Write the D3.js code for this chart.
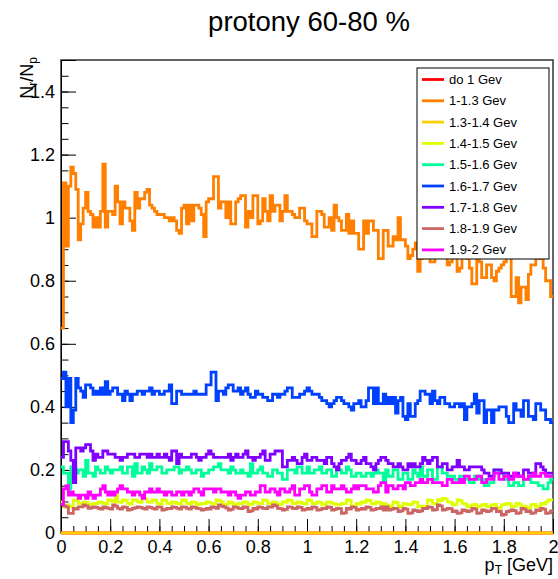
<!DOCTYPE html>
<html>
<head>
<meta charset="utf-8">
<script src="https://cdn.jsdelivr.net/npm/d3@7"></script>
<style>
  html, body { margin: 0; padding: 0; background: #fff; }
  svg { display: block; font-family: "Liberation Sans", Arial, Helvetica, sans-serif; }
</style>
</head>
<body>
<svg id="chart" width="558" height="579"></svg>
<script>
// legend entries and colours, in drawing order
const labels = ['do 1 Gev', '1-1.3 Gev', '1.3-1.4 Gev', '1.4-1.5 Gev', '1.5-1.6 Gev',
  '1.6-1.7 Gev', '1.7-1.8 Gev', '1.8-1.9 Gev', '1.9-2 Gev'];
const colors = ['#ff0000', '#ff8000', '#ffcc00', '#e0ff00', '#00ff99',
  '#0040ff', '#8000ff', '#cc6666', '#ff00ff'];

const pTRange = [0, 2];
const yRange = [0, 1.5];
const xTickValues = [0, 0.2, 0.4, 0.6, 0.8, 1, 1.2, 1.4, 1.6, 1.8, 2];
const yTickValues = [0, 0.2, 0.4, 0.6, 0.8, 1, 1.2, 1.4];

// 200 bins of 0.01 GeV each
const below1 = [
  0,0,0,0,0,0,0,0,0,0, 0,0,0,0,0,0,0,0,0,0, 0,0,0,0,0,0,0,0,0,0, 0,0,0,0,0,0,0,0,0,0,
  0,0,0,0,0,0,0,0,0,0, 0,0,0,0,0,0,0,0,0,0, 0,0,0,0,0,0,0,0,0,0, 0,0,0,0,0,0,0,0,0,0,
  0,0,0,0,0,0,0,0,0,0, 0,0,0,0,0,0,0,0,0,0, 0,0,0,0,0,0,0,0,0,0, 0,0,0,0,0,0,0,0,0,0,
  0,0,0,0,0,0,0,0,0,0, 0,0,0,0,0,0,0,0,0,0, 0,0,0,0,0,0,0,0,0,0, 0,0,0,0,0,0,0,0,0,0,
  0,0,0,0,0,0,0,0,0,0, 0,0,0,0,0,0,0,0,0,0, 0,0,0,0,0,0,0,0,0,0, 0,0,0,0,0,0,0,0,0,0
];
const gev1to13 = [
  0.65,1.11,0.91,1.10,1.16,1.14,1.09,0.93,0.98,1.03,
  1.08,1.02,1.01,0.97,1.00,0.97,1.02,1.17,0.97,1.02,
  1.02,1.01,1.10,1.05,0.98,1.05,1.03,1.03,0.99,0.96,
  1.08,1.03,1.06,1.06,1.08,1.09,1.04,1.03,1.02,1.01,
  1.01,1.01,1.00,1.00,0.99,1.00,0.99,0.96,0.95,1.03,
  1.04,0.98,1.04,0.99,1.04,1.04,1.03,1.01,0.94,1.05,
  1.06,1.06,1.13,1.13,1.03,1.05,1.05,1.00,1.05,0.98,
  0.98,1.05,1.06,1.07,1.07,0.97,1.02,1.00,1.07,1.07,
  0.98,0.99,1.06,1.02,0.99,1.07,1.02,1.04,1.04,0.99,
  1.02,1.07,1.02,1.02,1.01,1.00,1.00,1.03,1.03,0.99,
  0.98,0.98,0.94,0.94,1.02,1.02,1.01,0.97,0.97,1.00,
  0.96,1.04,1.00,0.99,0.96,0.96,1.01,0.95,0.99,0.95,
  0.95,0.90,0.90,0.99,0.95,0.99,0.99,0.96,0.96,0.87,
  0.87,0.96,0.96,0.91,0.91,0.94,0.93,1.00,0.93,0.93,
  0.91,0.87,0.88,0.90,0.92,0.83,0.87,0.90,0.92,0.89,
  0.86,0.86,0.90,0.92,0.88,0.91,0.89,0.85,0.86,0.90,
  0.88,0.83,0.84,0.91,0.88,0.87,0.84,0.79,0.79,0.90,
  0.86,0.81,0.81,0.85,0.85,0.81,0.80,0.83,0.84,0.85,
  0.86,0.90,0.92,0.75,0.75,0.81,0.73,0.78,0.78,0.74,
  0.82,0.85,0.85,0.87,0.87,0.90,0.84,0.80,0.80,0.75
];
const gev13to14 = [
  0,0,0,0,0,0,0,0,0,0, 0,0,0,0,0,0,0,0,0,0, 0,0,0,0,0,0,0,0,0,0, 0,0,0,0,0,0,0,0,0,0,
  0,0,0,0,0,0,0,0,0,0, 0,0,0,0,0,0,0,0,0,0, 0,0,0,0,0,0,0,0,0,0, 0,0,0,0,0,0,0,0,0,0,
  0,0,0,0,0,0,0,0,0,0, 0,0,0,0,0,0,0,0,0,0, 0,0,0,0,0,0,0,0,0,0, 0,0,0,0,0,0,0,0,0,0,
  0,0,0,0,0,0,0,0,0,0, 0,0,0,0,0,0,0,0,0,0, 0,0,0,0,0,0,0,0,0,0, 0,0,0,0,0,0,0,0,0,0,
  0,0,0,0,0,0,0,0,0,0, 0,0,0,0,0,0,0,0,0,0, 0,0,0,0,0,0,0,0,0,0, 0,0,0,0,0,0,0,0,0,0
];
const gev14to15 = [
  0.099,0.083,0.089,0.083,0.085,0.105,0.103,0.094,0.092,0.099,
  0.097,0.089,0.091,0.094,0.093,0.099,0.097,0.094,0.092,0.105,
  0.103,0.099,0.120,0.099,0.097,0.105,0.103,0.094,0.092,0.105,
  0.104,0.099,0.097,0.110,0.108,0.099,0.097,0.105,0.103,0.094,
  0.092,0.105,0.103,0.094,0.093,0.099,0.097,0.094,0.092,0.105,
  0.103,0.094,0.092,0.099,0.097,0.089,0.091,0.094,0.093,0.099,
  0.097,0.094,0.092,0.105,0.103,0.099,0.089,0.091,0.099,0.097,
  0.089,0.091,0.094,0.093,0.099,0.097,0.089,0.091,0.099,0.097,
  0.094,0.093,0.105,0.103,0.094,0.092,0.099,0.097,0.089,0.091,
  0.099,0.097,0.105,0.103,0.094,0.093,0.099,0.097,0.094,0.092,
  0.105,0.103,0.094,0.093,0.099,0.097,0.089,0.091,0.099,0.097,
  0.094,0.092,0.089,0.091,0.094,0.093,0.105,0.103,0.083,0.085,
  0.094,0.092,0.099,0.097,0.105,0.103,0.094,0.092,0.099,0.097,
  0.089,0.094,0.089,0.083,0.085,0.099,0.097,0.083,0.085,0.094,
  0.092,0.089,0.091,0.099,0.097,0.083,0.085,0.083,0.084,0.105,
  0.103,0.094,0.092,0.105,0.103,0.110,0.108,0.099,0.097,0.089,
  0.091,0.105,0.103,0.094,0.092,0.083,0.085,0.089,0.091,0.083,
  0.085,0.089,0.091,0.083,0.085,0.089,0.091,0.078,0.080,0.089,
  0.091,0.094,0.092,0.083,0.085,0.094,0.092,0.083,0.085,0.078,
  0.080,0.089,0.091,0.083,0.085,0.094,0.092,0.099,0.105,0.105
];
const gev15to16 = [
  0.21,0.19,0.19,0.14,0.21,0.21,0.19,0.20,0.20,0.18,
  0.23,0.19,0.19,0.18,0.21,0.20,0.19,0.19,0.21,0.20,
  0.19,0.20,0.20,0.20,0.21,0.19,0.19,0.21,0.21,0.18,
  0.22,0.19,0.19,0.21,0.20,0.19,0.22,0.20,0.20,0.21,
  0.21,0.19,0.19,0.20,0.20,0.20,0.21,0.21,0.19,0.20,
  0.20,0.21,0.20,0.19,0.19,0.20,0.20,0.18,0.19,0.19,
  0.20,0.20,0.21,0.21,0.22,0.20,0.20,0.20,0.19,0.21,
  0.20,0.19,0.19,0.20,0.19,0.19,0.18,0.22,0.19,0.19,
  0.20,0.21,0.19,0.19,0.18,0.18,0.20,0.20,0.19,0.19,
  0.17,0.17,0.20,0.20,0.20,0.19,0.21,0.21,0.19,0.19,
  0.21,0.19,0.19,0.20,0.20,0.21,0.19,0.19,0.20,0.20,
  0.18,0.18,0.20,0.20,0.19,0.19,0.21,0.20,0.18,0.18,
  0.19,0.19,0.18,0.18,0.19,0.19,0.18,0.19,0.20,0.19,
  0.19,0.16,0.20,0.18,0.18,0.20,0.20,0.17,0.17,0.19,
  0.19,0.17,0.17,0.20,0.19,0.18,0.21,0.18,0.18,0.20,
  0.20,0.17,0.17,0.21,0.21,0.19,0.19,0.18,0.18,0.18,
  0.17,0.17,0.18,0.18,0.17,0.17,0.16,0.16,0.18,0.18,
  0.17,0.17,0.15,0.15,0.16,0.16,0.20,0.20,0.19,0.19,
  0.17,0.17,0.15,0.15,0.16,0.16,0.15,0.15,0.17,0.17,
  0.17,0.16,0.16,0.16,0.15,0.15,0.14,0.14,0.16,0.17
];
const gev16to17 = [
  0.49,0.51,0.40,0.49,0.35,0.39,0.49,0.46,0.45,0.43,
  0.47,0.47,0.46,0.44,0.45,0.44,0.46,0.44,0.48,0.44,
  0.45,0.46,0.46,0.44,0.44,0.42,0.45,0.44,0.42,0.44,
  0.44,0.45,0.45,0.44,0.45,0.45,0.46,0.44,0.45,0.45,
  0.44,0.44,0.45,0.45,0.47,0.41,0.41,0.45,0.45,0.44,
  0.44,0.44,0.44,0.44,0.45,0.44,0.44,0.44,0.44,0.47,
  0.47,0.51,0.51,0.42,0.45,0.45,0.44,0.46,0.47,0.47,
  0.45,0.45,0.46,0.44,0.45,0.46,0.44,0.43,0.43,0.45,
  0.44,0.44,0.43,0.43,0.42,0.42,0.44,0.44,0.43,0.44,
  0.44,0.45,0.46,0.46,0.43,0.43,0.43,0.44,0.44,0.45,
  0.46,0.45,0.44,0.44,0.44,0.43,0.42,0.42,0.41,0.40,
  0.41,0.42,0.43,0.43,0.42,0.41,0.41,0.40,0.39,0.41,
  0.41,0.42,0.40,0.40,0.42,0.46,0.46,0.41,0.46,0.41,
  0.41,0.44,0.41,0.43,0.41,0.43,0.38,0.42,0.43,0.37,
  0.36,0.41,0.37,0.37,0.41,0.42,0.45,0.45,0.44,0.44,
  0.41,0.45,0.42,0.41,0.43,0.43,0.41,0.41,0.40,0.40,
  0.41,0.41,0.40,0.41,0.36,0.40,0.40,0.41,0.44,0.38,
  0.42,0.42,0.35,0.39,0.39,0.35,0.39,0.39,0.40,0.40,
  0.40,0.37,0.35,0.35,0.41,0.39,0.39,0.37,0.42,0.42,
  0.37,0.37,0.36,0.41,0.41,0.39,0.39,0.36,0.36,0.35
];
const gev17to18 = [
  0.24,0.29,0.29,0.26,0.23,0.16,0.27,0.27,0.26,0.27,
  0.28,0.28,0.26,0.23,0.25,0.24,0.24,0.26,0.26,0.25,
  0.25,0.25,0.24,0.24,0.23,0.24,0.24,0.25,0.25,0.25,
  0.24,0.24,0.25,0.25,0.25,0.24,0.25,0.24,0.24,0.25,
  0.24,0.24,0.25,0.24,0.23,0.26,0.26,0.22,0.25,0.24,
  0.24,0.24,0.24,0.25,0.25,0.24,0.23,0.24,0.24,0.25,
  0.26,0.25,0.24,0.24,0.24,0.24,0.24,0.24,0.25,0.23,
  0.24,0.25,0.24,0.24,0.25,0.26,0.24,0.24,0.23,0.24,
  0.24,0.25,0.26,0.23,0.23,0.25,0.25,0.26,0.26,0.26,
  0.21,0.21,0.23,0.23,0.24,0.23,0.22,0.22,0.24,0.25,
  0.23,0.23,0.24,0.24,0.23,0.23,0.23,0.22,0.24,0.24,
  0.22,0.21,0.20,0.22,0.23,0.23,0.24,0.25,0.23,0.23,
  0.22,0.22,0.23,0.24,0.22,0.22,0.21,0.20,0.22,0.23,
  0.24,0.24,0.23,0.22,0.22,0.21,0.21,0.22,0.21,0.20,
  0.20,0.22,0.21,0.22,0.21,0.21,0.22,0.24,0.23,0.22,
  0.23,0.24,0.24,0.21,0.21,0.22,0.22,0.20,0.20,0.21,
  0.21,0.23,0.21,0.21,0.20,0.20,0.21,0.21,0.21,0.21,
  0.21,0.20,0.19,0.19,0.18,0.18,0.20,0.20,0.20,0.19,
  0.19,0.19,0.18,0.18,0.19,0.19,0.18,0.18,0.20,0.20,
  0.19,0.19,0.19,0.22,0.22,0.21,0.20,0.19,0.19,0.19
];
const gev18to19 = [
  0.090,0.086,0.083,0.062,0.062,0.078,0.076,0.083,0.083,0.089,
  0.086,0.078,0.080,0.083,0.081,0.078,0.076,0.083,0.080,0.078,
  0.076,0.089,0.085,0.078,0.076,0.083,0.081,0.073,0.075,0.078,
  0.080,0.083,0.081,0.078,0.076,0.083,0.081,0.078,0.076,0.083,
  0.082,0.073,0.075,0.078,0.077,0.083,0.081,0.078,0.076,0.083,
  0.082,0.078,0.076,0.083,0.081,0.078,0.077,0.073,0.075,0.078,
  0.076,0.083,0.081,0.078,0.089,0.085,0.083,0.079,0.073,0.075,
  0.083,0.081,0.078,0.077,0.083,0.081,0.068,0.070,0.078,0.076,
  0.083,0.081,0.078,0.077,0.083,0.082,0.089,0.086,0.078,0.077,
  0.073,0.075,0.083,0.082,0.078,0.077,0.083,0.081,0.073,0.075,
  0.078,0.076,0.083,0.081,0.073,0.074,0.078,0.077,0.083,0.081,
  0.073,0.075,0.078,0.077,0.062,0.064,0.078,0.076,0.083,0.081,
  0.073,0.075,0.078,0.076,0.083,0.081,0.073,0.074,0.078,0.077,
  0.083,0.073,0.083,0.073,0.075,0.078,0.077,0.068,0.070,0.078,
  0.076,0.062,0.064,0.073,0.071,0.068,0.070,0.078,0.077,0.083,
  0.081,0.073,0.074,0.089,0.086,0.073,0.075,0.078,0.077,0.068,
  0.070,0.062,0.064,0.073,0.071,0.068,0.070,0.078,0.076,0.062,
  0.064,0.073,0.071,0.068,0.070,0.078,0.077,0.068,0.069,0.057,
  0.059,0.068,0.070,0.073,0.071,0.062,0.064,0.078,0.076,0.068,
  0.070,0.062,0.064,0.073,0.071,0.078,0.076,0.062,0.064,0.070
];
const gev19to2 = [
  0.09,0.14,0.15,0.12,0.13,0.12,0.12,0.11,0.12,0.12,
  0.11,0.13,0.12,0.11,0.12,0.12,0.14,0.15,0.13,0.12,
  0.13,0.12,0.13,0.14,0.15,0.14,0.14,0.13,0.13,0.12,
  0.13,0.13,0.12,0.11,0.13,0.13,0.14,0.13,0.13,0.14,
  0.13,0.13,0.12,0.13,0.13,0.12,0.12,0.13,0.13,0.12,
  0.13,0.13,0.12,0.13,0.14,0.14,0.13,0.12,0.14,0.14,
  0.14,0.14,0.13,0.14,0.14,0.13,0.13,0.13,0.12,0.13,
  0.13,0.12,0.11,0.12,0.12,0.13,0.13,0.12,0.12,0.13,
  0.13,0.15,0.15,0.13,0.13,0.14,0.14,0.13,0.12,0.14,
  0.14,0.13,0.13,0.14,0.15,0.12,0.12,0.14,0.14,0.15,
  0.15,0.13,0.12,0.12,0.14,0.14,0.15,0.15,0.13,0.13,
  0.15,0.14,0.14,0.14,0.15,0.14,0.13,0.13,0.14,0.15,
  0.14,0.15,0.15,0.15,0.14,0.14,0.14,0.13,0.13,0.15,
  0.16,0.16,0.13,0.15,0.15,0.14,0.14,0.15,0.15,0.14,
  0.16,0.16,0.15,0.15,0.16,0.16,0.17,0.16,0.16,0.17,
  0.17,0.16,0.16,0.16,0.16,0.15,0.15,0.17,0.17,0.16,
  0.16,0.16,0.17,0.16,0.18,0.18,0.17,0.17,0.17,0.18,
  0.18,0.16,0.16,0.17,0.17,0.17,0.19,0.19,0.17,0.17,
  0.18,0.18,0.17,0.17,0.19,0.18,0.18,0.18,0.17,0.17,
  0.18,0.18,0.19,0.18,0.18,0.19,0.19,0.18,0.18,0.18
];

const series = [below1, gev1to13, gev13to14, gev14to15, gev15to16,
  gev16to17, gev17to18, gev18to19, gev19to2];

const svg = d3.select('#chart');

const x = d3.scaleLinear().domain(pTRange).range([61, 553]);
const y = d3.scaleLinear().domain(yRange).range([533, 60]);

// title
svg.append('text')
  .attr('x', 309)
  .attr('y', 31)
  .attr('text-anchor', 'middle')
  .attr('font-size', 27.5)
  .attr('fill', '#000')
  .text('protony 60-80 %');

// frame
svg.append('rect')
  .attr('x', x(pTRange[0]))
  .attr('y', y(yRange[1]))
  .attr('width', x(pTRange[1]) - x(pTRange[0]))
  .attr('height', y(yRange[0]) - y(yRange[1]))
  .attr('fill', 'none')
  .attr('stroke', '#333')
  .attr('stroke-width', 1.5);

// minor ticks every 0.05
const xMinor = d3.range(0, 41).map(i => i * 0.05);
const yMinor = d3.range(0, 31).map(i => i * 0.05);

svg.append('g')
  .attr('transform', `translate(0,${y(0)})`)
  .call(d3.axisBottom(x).tickValues(xMinor).tickSize(-7).tickFormat(''))
  .call(g => g.select('.domain').remove());

svg.append('g')
  .attr('transform', `translate(${x(0)},0)`)
  .call(d3.axisLeft(y).tickValues(yMinor).tickSize(-7.5).tickFormat(''))
  .call(g => g.select('.domain').remove());

// major ticks with labels
const fmt = d => String(+d.toFixed(1));

const xAxis = svg.append('g')
  .attr('transform', `translate(0,${y(0)})`)
  .call(d3.axisBottom(x).tickValues(xTickValues).tickSize(-14).tickPadding(7).tickFormat(fmt));
xAxis.selectAll('text')
  .attr('font-size', 18)
  .attr('font-family', '"Liberation Sans", Arial, sans-serif')
  .attr('fill', '#000');

const yAxis = svg.append('g')
  .attr('transform', `translate(${x(0)},0)`)
  .call(d3.axisLeft(y).tickValues(yTickValues).tickSize(-15).tickPadding(6).tickFormat(fmt));
yAxis.selectAll('text')
  .attr('font-size', 18)
  .attr('font-family', '"Liberation Sans", Arial, sans-serif')
  .attr('fill', '#000');

svg.selectAll('.domain').attr('stroke', '#000');

// axis titles
const xt = svg.append('text')
  .attr('x', 553)
  .attr('y', 571)
  .attr('text-anchor', 'end')
  .attr('font-size', 18);
xt.append('tspan').text('p');
xt.append('tspan').attr('font-size', 12).attr('dy', 3).text('T');
xt.append('tspan').attr('dy', -3).text(' [GeV]');

const yt = svg.append('text')
  .attr('transform', 'translate(33,57) rotate(-90)')
  .attr('text-anchor', 'end')
  .attr('font-size', 18);
yt.append('tspan').text('N');
yt.append('tspan').attr('font-size', 12).attr('dy', 4).text('r');
yt.append('tspan').attr('dy', -4).text('/N');
yt.append('tspan').attr('font-size', 12).attr('dy', 4).text('p');

// histograms as step lines
const line = d3.line()
  .x(d => x(d[0]))
  .y(d => y(d[1]))
  .curve(d3.curveStepAfter);

series.forEach((values, k) => {
  const binW = (pTRange[1] - pTRange[0]) / values.length;
  const pts = values.map((v, i) => [pTRange[0] + i * binW, v]);
  pts.push([pTRange[1], values[values.length - 1]]);
  svg.append('path')
    .attr('d', line(pts))
    .attr('fill', 'none')
    .attr('stroke', colors[k])
    .attr('stroke-width', 2.8);
});

// legend
const lg = svg.append('g');
lg.append('rect')
  .attr('x', 417)
  .attr('y', 68)
  .attr('width', 132)
  .attr('height', 191)
  .attr('fill', '#fff')
  .attr('stroke', '#000')
  .attr('stroke-width', 1);

labels.forEach((lab, i) => {
  const cy = 79.5 + i * 21.3;
  lg.append('line')
    .attr('x1', 422).attr('x2', 444)
    .attr('y1', cy).attr('y2', cy)
    .attr('stroke', colors[i])
    .attr('stroke-width', 2.8);
  lg.append('text')
    .attr('x', 449)
    .attr('y', cy)
    .attr('dy', '0.35em')
    .attr('font-size', 13)
    .text(lab);
});
</script>
</body>
</html>
